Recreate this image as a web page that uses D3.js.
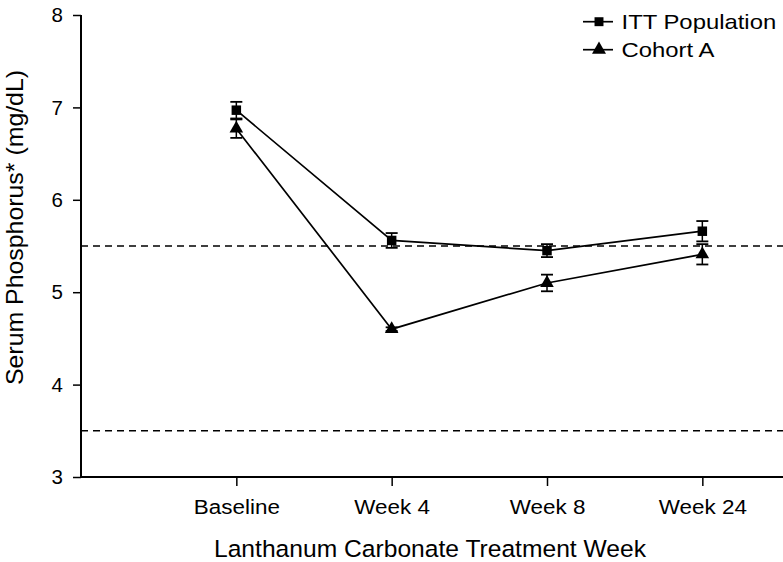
<!DOCTYPE html>
<html><head><meta charset="utf-8">
<script src="https://cdn.jsdelivr.net/npm/d3@7"></script>
<style>body{margin:0;background:#fff}svg{display:block}text{font-family:"Liberation Sans",Arial,sans-serif;fill:#000}</style>
</head><body><svg id="c" width="783" height="562"></svg>
<script>
const categories = ["Baseline","Week 4","Week 8","Week 24"];
const ittMean = [6.97, 5.56, 5.45, 5.66];
const ittErr  = [0.09, 0.08, 0.07, 0.11];
const cohortMean = [6.77, 4.60, 5.10, 5.41];
const cohortErr  = [0.10, 0.02, 0.09, 0.11];
const yTicks = [3,4,5,6,7,8];
const refLines = [5.5, 3.5];
const seriesNames = ["ITT Population","Cohort A"];

const svg = d3.select("#c");
const x = d3.scaleLinear().domain([-1, 3.5]).range([81, 780]);
const y = d3.scaleLinear().domain([3, 8]).range([477, 15]);
const FONT = "Liberation Sans, Arial, sans-serif";

// reference dashed lines
svg.selectAll("line.ref").data(refLines).join("line")
  .attr("x1", x(-1)).attr("x2", 783)
  .attr("y1", d=>y(d)).attr("y2", d=>y(d))
  .attr("stroke","#000").attr("stroke-width",1.6).attr("stroke-dasharray","7,5");

// y axis
const ya = svg.append("g").attr("transform","translate(81,0)")
  .call(d3.axisLeft(y).tickValues(yTicks).tickSize(8).tickPadding(10).tickFormat(d3.format("d")));
ya.select(".domain").attr("stroke-width",2).attr("d",`M0,${y(8)}V${y(3)}`);
ya.selectAll(".tick line").attr("stroke-width",1.5);
ya.selectAll("text").style("font-size","20.5px").style("font-family",FONT).attr("dy","0.33em");

// x axis
const xa = svg.append("g").attr("transform","translate(0,477)")
  .call(d3.axisBottom(x).tickValues([0,1,2,3]).tickSize(9).tickPadding(12).tickFormat(i=>categories[i]));
xa.select(".domain").attr("stroke-width",2).attr("d",`M81,0H783`);
xa.selectAll(".tick line").attr("stroke-width",1.5);
xa.selectAll("text").style("font-size","21px").style("font-family",FONT)
  .attr("y",0).attr("dy",0).attr("transform","translate(0,37) scale(1.07,1)");

// axis titles
svg.append("text").attr("transform","translate(430,556.5) scale(1.057,1)").attr("text-anchor","middle")
  .style("font-size","23.3px").text("Lanthanum Carbonate Treatment Week");
svg.append("text").attr("transform","translate(22.5,227.5) rotate(-90) scale(1.05,1)").attr("text-anchor","middle")
  .style("font-size","23.7px").text("Serum Phosphorus* (mg/dL)");

const line = d3.line().x((d,i)=>x(i)).y(d=>y(d));
function drawSeries(mean, err, shape){
  const g = svg.append("g");
  g.append("path").datum(mean).attr("d", line).attr("fill","none").attr("stroke","#000").attr("stroke-width",1.7);
  const eb = g.selectAll("g.eb").data(mean).join("g");
  eb.append("line").attr("x1",(d,i)=>x(i)).attr("x2",(d,i)=>x(i))
    .attr("y1",(d,i)=>y(d+err[i])).attr("y2",(d,i)=>y(d-err[i])).attr("stroke","#000").attr("stroke-width",1.5);
  [1,-1].forEach(s=>{
    eb.append("line").attr("x1",(d,i)=>x(i)-6).attr("x2",(d,i)=>x(i)+6)
      .attr("y1",(d,i)=>y(d+s*err[i])).attr("y2",(d,i)=>y(d+s*err[i])).attr("stroke","#000").attr("stroke-width",1.8);
  });
  const sym = d3.symbol().type(shape).size(shape===d3.symbolSquare?90:80);
  g.selectAll("path.m").data(mean).join("path").attr("class","m")
    .attr("transform",(d,i)=>`translate(${x(i)},${y(d)})`).attr("d",sym).attr("fill","#000");
}
drawSeries(ittMean, ittErr, d3.symbolSquare);
drawSeries(cohortMean, cohortErr, d3.symbolTriangle);

// legend
const leg = svg.append("g");
const shapes = [d3.symbolSquare, d3.symbolTriangle];
seriesNames.forEach((n,k)=>{
  const yy = 21.7 + k*28;
  leg.append("line").attr("x1",583).attr("x2",613).attr("y1",yy).attr("y2",yy).attr("stroke","#000").attr("stroke-width",1.7);
  leg.append("path").attr("transform",`translate(599,${yy})`).attr("d",d3.symbol().type(shapes[k]).size(k?85:80)()).attr("fill","#000");
  leg.append("text").attr("transform",`translate(621.5,${yy+7.6}) scale(1.17,1)`).style("font-size","20.4px").text(n);
});
</script></body></html>
